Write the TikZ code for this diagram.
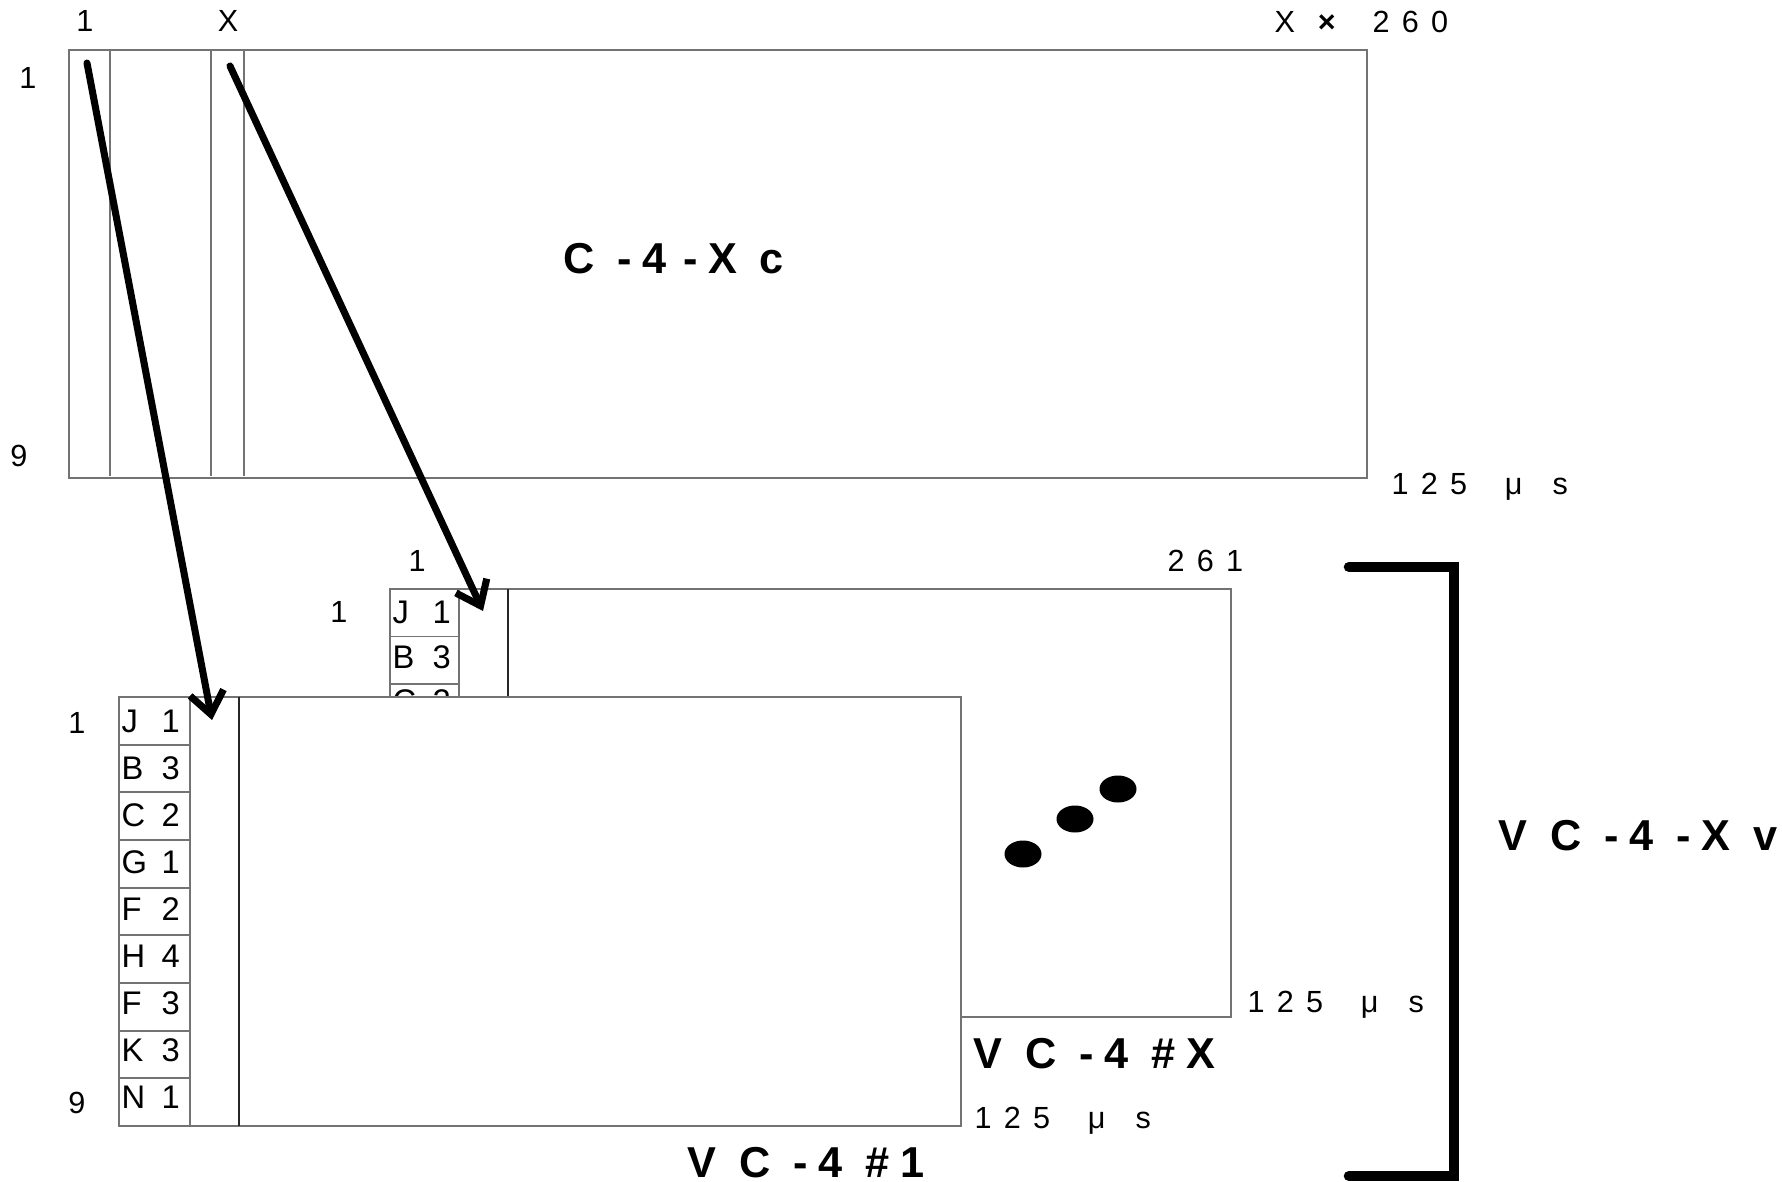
\documentclass[tikz,border=0pt]{standalone}
\usepackage{fontspec}
\setmainfont{Liberation Sans}
\newfontfamily\spacedfont[LetterSpace=40]{Liberation Sans}
\newfontfamily\headfont[LetterSpace=25]{Liberation Sans Bold}
\usetikzlibrary{arrows.meta,positioning}

\begin{document}
\begin{tikzpicture}[
  x=0.01cm,y=-0.01cm,
  frame/.style={draw=black!55,line width=0.5pt},
  divider/.style={draw=black!85,line width=0.5pt},
  cell/.style={draw=black!55,line width=0.5pt},
  num/.style={font=\fontsize{8.7}{10}\selectfont,inner sep=0pt,anchor=base},
  spaced/.style={font=\fontsize{8.7}{10}\spacedfont,inner sep=0pt,anchor=base west},
  celltext/.style={font=\fontsize{9.3}{10}\selectfont,inner sep=0pt,anchor=west},
  head/.style={font=\fontsize{12.3}{14}\headfont,inner sep=0pt,anchor=base west},
  mapping/.style={-{Straight Barb[length=2.2mm,width=3.4mm]},line width=2pt,line cap=round},
  bracketline/.style={line width=3pt,line cap=round},
]
\useasboundingbox (0,0) rectangle (1782,1182);

% C-4-Xc frame
\draw[frame] (69,50) rectangle (1367,478);
\foreach \x in {110,211,244} \draw[frame] (\x,50) -- (\x,476);
\node[num] (topcol1) at (85,32) {1};
\node[num] (topcolx) at (228,32) {X};
\node[spaced] (topcols) at (1274,33) {X \hspace{0.02cm}\textbf{×}\hspace{0.04cm} 260};
\node[num] (toprow1) at (28,89) {1};
\node[num] (toprow9) at (19,466) {9};
\node[spaced] (toptime) at (1391,494) {125 \hspace{0.17cm}μ\hspace{0.3cm}s};
\node[head] (c4xc) at (563,274) {C -4\hspace{0.16cm}-X\hspace{0.22cm}c};

% VC-4 #X (behind)
\draw[frame] (390,589) rectangle (1231,1017);
\foreach \l/\d [count=\i from 0] in {J/1,B/3,C/2,G/1,F/2,H/4,F/3,K/3,N/1} {
  \draw[cell] (390,{589+47.55*\i}) rectangle (459,{589+47.55*(\i+1)});
  \node[celltext] (backrow\i) at (392,{589+47.55*\i+23-2.8*\i}) {\makebox[0.58cm][l]{\l\hfill\d}};
}
\draw[divider] (508,589) -- (508,1017);
\fill (1023,854) ellipse [x radius=0.185cm,y radius=0.135cm];
\fill (1075,819) ellipse [x radius=0.185cm,y radius=0.135cm];
\fill (1118,789) ellipse [x radius=0.185cm,y radius=0.135cm];
\node[num] (backcol1) at (417,571) {1};
\node[spaced] (backcols) at (1167,571) {261};
\node[num] (backrow1) at (339,622) {1};
\node[spaced] (backtime) at (1247,1012) {125 \hspace{0.17cm}μ\hspace{0.3cm}s};
\node[head] (vc4x) at (973,1068) {V C -4 \#X};

% VC-4 #1 (front)
\draw[frame,fill=white] (119,697) rectangle (961,1126);
\foreach \l/\d [count=\i from 0] in {J/1,B/3,C/2,G/1,F/2,H/4,F/3,K/3,N/1} {
  \draw[cell] (119,{697+47.67*\i}) rectangle (190,{697+47.67*(\i+1)});
  \node[celltext] (frontrow\i) at (121,{697+47.67*\i+24-0.6*\i}) {\makebox[0.58cm][l]{\l\hfill\d}};
}
\draw[divider] (239,697) -- (239,1126);
\node[num] (frontrow1) at (77,733) {1};
\node[num] (frontrow9) at (77,1113) {9};
\node[spaced] (fronttime) at (974,1128) {125 \hspace{0.17cm}μ\hspace{0.3cm}s};
\node[head] (vc41) at (687,1177) {V C -4 \#1};

% mapping of the columns
\coordinate (col1) at (87,63);
\coordinate (col1in) at (212,720);
\coordinate (colx) at (230,66);
\coordinate (colxin) at (483,611);
\draw[mapping] (col1) -- (col1in);
\draw[mapping] (colx) -- (colxin);

% VC-4-Xv bracket
\coordinate (brtop) at (1349,567);
\coordinate (brbot) at (1349,1176);
\draw[bracketline] (brtop) -- (1454,567) -- (1454,1176) -- (brbot);
\node[head] (vc4xv) at (1498,850) {V C -4 -X v};
\end{tikzpicture}
\end{document}
